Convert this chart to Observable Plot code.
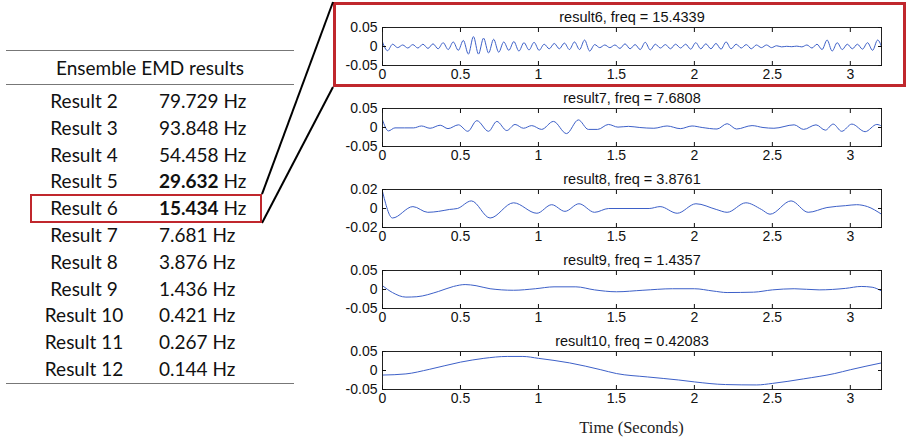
<!DOCTYPE html>
<html>
<head>
<meta charset="utf-8">
<script src="https://cdn.jsdelivr.net/npm/d3@7"></script>
<script src="https://cdn.jsdelivr.net/npm/@observablehq/plot@0.6"></script>
<style>
  html, body { margin: 0; padding: 0; background: #fff; }
  #root { position: relative; width: 907px; height: 438px; overflow: hidden; background: #fff; }
  .panel { position: absolute; left: 330px; }
  #table { position: absolute; left: 6px; top: 50px; width: 288px; font-family: Lato, "Open Sans", sans-serif; font-size: 19px; color: #111; }
  #table .rule { height: 0; border-top: 1px solid #777; }
  #table .head { height: 33px; line-height: 33px; text-align: center; }
  #table .rows { padding-top: 3px; }
  #table .row { position: relative; height: 26.8px; line-height: 26.8px; }
  #table .c1 { position: absolute; left: 0; width: 156px; text-align: center; }
  #table .c2 { position: absolute; left: 153px; }
  #hl6 { position: absolute; border: 2px solid #c0272d; box-sizing: border-box; }
  #hlPanel { position: absolute; left: 333px; top: 2px; width: 573px; height: 85px; border: 3px solid #c0272d; box-sizing: border-box; }
  #xlabel { position: absolute; left: 382px; width: 499px; top: 418px; text-align: center; font-family: "Liberation Serif", serif; font-size: 16.5px; color: #222; }
  #overlay { position: absolute; left: 0; top: 0; pointer-events: none; }
</style>
</head>
<body>
<div id="root">
  <div id="table"></div>
  <div id="panels"></div>
  <div id="hlPanel"></div>
  <div id="xlabel">Time (Seconds)</div>
  <svg id="overlay" width="907" height="438"></svg>
</div>
<script>
// ---- table data ----
const resultNames = ["Result 2","Result 3","Result 4","Result 5","Result 6","Result 7","Result 8","Result 9","Result 10","Result 11","Result 12"];
const resultFreqs = ["79.729","93.848","54.458","29.632","15.434","7.681","3.876","1.436","0.421","0.267","0.144"];
const boldResults = ["Result 5","Result 6"];
const highlighted = "Result 6";
const tableTitle = "Ensemble EMD results";

// ---- panel data ----
const xTicks = [0, 0.5, 1, 1.5, 2, 2.5, 3];
const xDomain = [0, 3.2];

const title6 = "result6, freq = 15.4339";
const dt6 = 0.0324; // sample spacing of listed extrema (s)
const v6 = [0.012,-0.011,0.006,-0.003,0.004,-0.004,0.005,-0.004,0.006,-0.005,
  0.007,-0.006,0.01,-0.008,0.012,-0.01,0.016,-0.02,0.026,-0.02,
  0.022,-0.017,0.019,-0.015,0.012,-0.01,0.013,-0.012,0.01,-0.009,
  0.011,-0.01,0.006,-0.006,0.008,-0.006,0.009,-0.008,0.012,-0.008,
  0.017,-0.012,0.005,-0.003,0.004,-0.003,0.004,-0.005,0.007,-0.006,
  0.005,-0.008,0.011,-0.009,0.006,-0.004,0.005,-0.006,0.006,-0.004,
  0.006,-0.007,0.01,-0.006,0.007,-0.006,0.008,-0.007,0.012,-0.006,
  0.006,-0.004,0.005,-0.006,0.004,-0.003,0.004,-0.003,0.002,-0.001,
  0.0005,-0.0005,0.001,-0.001,0.004,-0.004,0.006,-0.008,0.017,-0.012,
  0.01,-0.008,0.006,-0.006,0.006,-0.007,0.01,-0.01,0.017,-0.01];
const t6 = v6.map((_, i) => i * dt6);

const title7 = "result7, freq = 7.6808";
const t7 = [0,0.038,0.08,0.14,0.2,0.25,0.305,0.37,0.42,0.487,0.547,0.605,0.68,0.733,0.797,0.85,0.904,0.957,1.02,1.096,1.18,1.256,1.32,1.38,1.449,1.51,1.577,1.65,1.74,1.825,1.91,1.985,2.05,2.145,2.21,2.27,2.37,2.44,2.51,2.64,2.70,2.78,2.84,2.89,2.945,3.01,3.095,3.17,3.2];
const v7 = [0.02,-0.009,-0.001,-0.001,-0.001,0.004,-0.002,0.006,-0.003,0.007,-0.01,0.018,-0.01,0.016,-0.008,0.008,-0.002,0.005,-0.005,0.016,-0.016,0.02,-0.005,-0.005,0.008,0.001,0.003,0,-0.002,0.004,-0.003,0.004,0,-0.004,0.01,-0.004,0.005,0,-0.002,0.007,-0.005,0.007,-0.007,0.009,-0.01,0.009,-0.011,0.008,0.004];

const title8 = "result8, freq = 3.8761";
const t8 = [0,0.064,0.195,0.29,0.36,0.43,0.48,0.57,0.69,0.84,0.99,1.085,1.17,1.26,1.36,1.45,1.6,1.71,1.78,1.89,2.01,2.14,2.21,2.33,2.43,2.485,2.62,2.73,2.85,2.97,3.04,3.11,3.2];
const v8 = [0.018,-0.01,0.002,-0.004,-0.003,-0.001,0,0.008,-0.01,0.006,-0.005,0.004,-0.003,0.005,-0.004,0,0,0,0.002,-0.005,0.005,-0.001,-0.004,0.006,-0.001,-0.006,0.008,-0.004,0.001,0.003,0.004,0.002,-0.006];

const title9 = "result9, freq = 1.4357";
const t9 = [0,0.064,0.15,0.22,0.36,0.455,0.53,0.6,0.69,0.84,0.98,1.1,1.24,1.36,1.5,1.67,1.86,2.0,2.12,2.21,2.38,2.5,2.64,2.8,2.97,3.07,3.14,3.2];
const v9 = [0.01,-0.008,-0.02,-0.019,-0.005,0.008,0.013,0.01,0.002,-0.002,0.002,0.007,0.007,-0.001,-0.006,-0.002,0.002,0.002,-0.004,-0.008,-0.007,-0.001,0.002,-0.001,0.003,0.008,0.006,-0.004];

const title10 = "result10, freq = 0.42083";
const t10 = [0,0.15,0.3,0.5,0.65,0.8,0.9,1.0,1.2,1.4,1.5,1.7,1.9,2.0,2.2,2.4,2.5,2.7,2.9,3.0,3.2];
const v10 = [-0.012,-0.009,0.003,0.022,0.032,0.037,0.037,0.032,0.02,0.002,-0.008,-0.017,-0.025,-0.03,-0.037,-0.038,-0.034,-0.022,-0.008,0.002,0.02];

const panels = [
  {title: title6, t: t6, v: v6, yLim: 0.05},
  {title: title7, t: t7, v: v7, yLim: 0.05},
  {title: title8, t: t8, v: v8, yLim: 0.02},
  {title: title9, t: t9, v: v9, yLim: 0.05},
  {title: title10, t: t10, v: v10, yLim: 0.05}
];
const panelTops = [3, 84, 165, 246, 327];

// ---- build table ----
const table = document.getElementById("table");
let html = `<div class="rule"></div><div class="head">${tableTitle}</div><div class="rule"></div><div class="rows">`;
resultNames.forEach((name, i) => {
  const f = boldResults.includes(name) ? `<b>${resultFreqs[i]}</b>` : resultFreqs[i];
  html += `<div class="row" data-name="${name}"><span class="c1">${name}</span><span class="c2">${f} Hz</span></div>`;
});
html += `</div><div class="rule"></div>`;
table.innerHTML = html;

// ---- build panels ----
const lineColor = "#3d60c8";
const panelsDiv = document.getElementById("panels");
panels.forEach((p, idx) => {
  const rows = p.t.map((t, i) => ({t, v: p.v[i]}));
  const yTicks = [-p.yLim, 0, p.yLim];
  const chart = Plot.plot({
    width: 577,
    height: 81,
    marginLeft: 52,
    marginRight: 26,
    marginTop: 24,
    marginBottom: 19,
    x: {domain: xDomain},
    y: {domain: [-p.yLim, p.yLim]},
    style: {fontFamily: "'Liberation Sans', Arial, sans-serif", fontSize: "14px", color: "#111", background: "transparent", overflow: "visible"},
    marks: [
      Plot.line(rows, {x: "t", y: "v", stroke: lineColor, strokeWidth: 1, curve: "monotone-x", clip: true}),
      Plot.frame({stroke: "#222"}),
      Plot.axisX(xTicks, {anchor: "bottom", tickSize: -4, tickPadding: 8, label: null, tickFormat: d => String(d)}),
      Plot.axisX(xTicks, {anchor: "top", tickSize: -4, fill: "none", label: null}),
      Plot.axisY(yTicks, {anchor: "left", tickSize: -4, tickPadding: 9, label: null, tickFormat: d => String(d)}),
      Plot.axisY(yTicks, {anchor: "right", tickSize: -4, fill: "none", label: null}),
      Plot.text([p.title], {frameAnchor: "top", dy: -16, text: d => d, fontSize: 14.5, fill: "#111"})
    ]
  });
  const wrap = document.createElement("div");
  wrap.className = "panel";
  wrap.style.top = panelTops[idx] + "px";
  wrap.appendChild(chart);
  panelsDiv.appendChild(wrap);
});

// ---- highlight box on table row and connectors ----
const root = document.getElementById("root").getBoundingClientRect();
const rowEl = table.querySelector(`.row[data-name="${highlighted}"]`);
const rr = rowEl.getBoundingClientRect();
const hl = document.createElement("div");
hl.id = "hl6";
const hx0 = 30, hx1 = 262;
hl.style.left = hx0 + "px";
hl.style.width = (hx1 - hx0) + "px";
hl.style.top = (rr.top - root.top - 1) + "px";
hl.style.height = (rr.height + 2) + "px";
document.getElementById("root").appendChild(hl);
const hr = hl.getBoundingClientRect();
const pr = document.getElementById("hlPanel").getBoundingClientRect();
const ov = d3.select("#overlay");
const lines = [
  [hr.right - root.left, hr.top - root.top, pr.left - root.left, pr.top - root.top],
  [hr.right - root.left, hr.bottom - root.top, pr.left - root.left, pr.bottom - root.top]
];
ov.selectAll("line").data(lines).join("line")
  .attr("x1", d => d[0]).attr("y1", d => d[1]).attr("x2", d => d[2]).attr("y2", d => d[3])
  .attr("stroke", "#000").attr("stroke-width", 2);
</script>
</body>
</html>
